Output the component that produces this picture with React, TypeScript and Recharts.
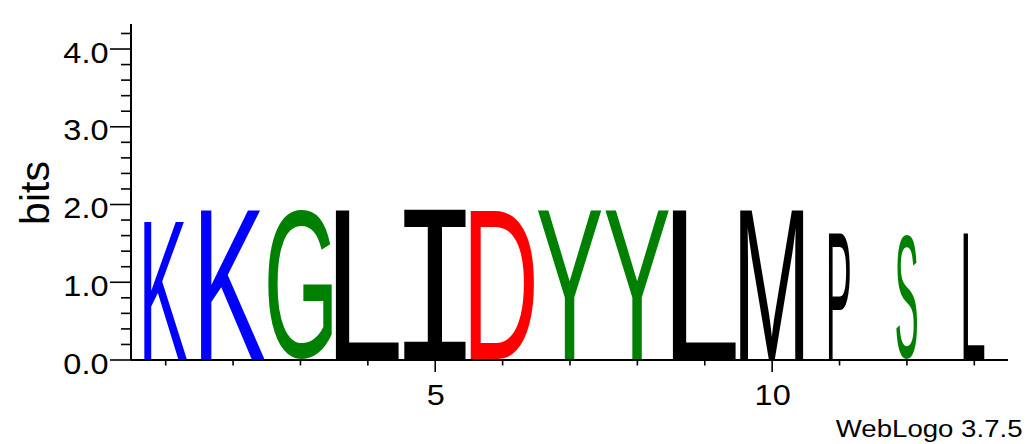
import React from 'react';
import { BarChart, Bar, XAxis, YAxis } from 'recharts';

// ---- data ----
const positions = [1, 2, 3, 4, 5, 6, 7, 8, 9, 10, 11, 12, 13];
const letters = ['K', 'K', 'G', 'L', 'I', 'D', 'Y', 'Y', 'L', 'M', 'P', 'S', 'L'];
const bitValues = [1.77, 1.93, 1.93, 1.93, 1.93, 1.93, 1.93, 1.93, 1.93, 1.93, 1.63, 1.63, 1.63];
const stackWeights = [0.67, 1, 1, 1, 1, 1, 1, 1, 1, 1, 0.33, 0.33, 0.33];
const yTicks = [0, 0.2, 0.4, 0.6, 0.8, 1, 1.2, 1.4, 1.6, 1.8, 2, 2.2, 2.4, 2.6, 2.8, 3, 3.2, 3.4, 3.6, 3.8, 4, 4.2];
const xLabeledTicks = [5, 10];
const yMax = 4.3219;

const colorOf: Record<string, string> = {
  K: '#0000ff', R: '#0000ff', H: '#0000ff',
  D: '#ff0000', E: '#ff0000',
  G: '#008000', S: '#008000', T: '#008000', Y: '#008000', C: '#008000',
  L: '#000000', I: '#000000', M: '#000000', P: '#000000', A: '#000000', V: '#000000', F: '#000000', W: '#000000',
};

const data = positions.map((p, i) => ({
  pos: p,
  letter: letters[i],
  bits: bitValues[i],
  weight: stackWeights[i],
}));

const SANS = 'Liberation Sans';
const MONO = 'Liberation Mono';
const TEXT_FONT = "'Liberation Sans', Arial, Helvetica, sans-serif";

type GM = { l: number; r: number; a: number; d: number };
const glyphCache: Record<string, GM> = {};
function measureGlyph(ch: string, fam: string): GM {
  const key = fam + '|' + ch;
  if (glyphCache[key]) return glyphCache[key];
  let res: GM = { l: -5, r: 70, a: 72, d: 0 };
  try {
    const ctx = document.createElement('canvas').getContext('2d');
    if (ctx) {
      ctx.font = `100px "${fam}"`;
      const m = ctx.measureText(ch);
      if (m.actualBoundingBoxRight + m.actualBoundingBoxLeft > 0) {
        res = {
          l: m.actualBoundingBoxLeft,
          r: m.actualBoundingBoxRight,
          a: m.actualBoundingBoxAscent,
          d: m.actualBoundingBoxDescent,
        };
      }
    }
  } catch (e) {
    // keep fallback
  }
  glyphCache[key] = res;
  return res;
}

function LetterShape(props: any) {
  const { x, y, width, height, payload } = props;
  if (!payload || !(height > 0)) return null;
  const ch: string = payload.letter;
  const fam = ch === 'I' ? MONO : SANS;
  const m = measureGlyph(ch, fam);
  const cx = x + width / 2;
  const boxW = (width - 3) * payload.weight;
  const boxX = cx - boxW / 2;
  const boxH = height - 1;
  const sx = boxW / (m.l + m.r);
  const sy = boxH / (m.a + m.d);
  return (
    <text
      transform={`translate(${boxX + m.l * sx},${y + m.a * sy}) scale(${sx},${sy})`}
      x={0}
      y={0}
      fontFamily={`'${fam}'`}
      fontWeight="normal"
      fontSize={100}
      fill={colorOf[ch] || '#000'}
    >
      {ch}
    </text>
  );
}

function YTick(props: any) {
  const { x, y, payload } = props;
  const v: number = payload.value;
  const major = Math.abs(v - Math.round(v)) < 1e-6;
  const len = major ? 21 : 10;
  return (
    <g>
      <line x1={x - len} y1={y} x2={x} y2={y} stroke="#000" strokeWidth={1.6} />
      {major && (
        <text
          transform={`translate(${x - 22.5},${y + 13.5}) scale(1.12,1)`}
          x={0}
          y={0}
          textAnchor="end"
          fontFamily={TEXT_FONT}
          fontSize={29}
          fill="#000"
        >
          {v.toFixed(1)}
        </text>
      )}
    </g>
  );
}

function XTick(props: any) {
  const { x, y, payload } = props;
  const v: number = payload.value;
  const major = xLabeledTicks.includes(v);
  const len = major ? 12 : 5.5;
  return (
    <g>
      <line x1={x} y1={y} x2={x} y2={y + len} stroke="#000" strokeWidth={1.6} />
      {major && (
        <text
          transform={`translate(${x + 0.5},${y + 45}) scale(1.12,1)`}
          x={0}
          y={0}
          textAnchor="middle"
          fontFamily={TEXT_FONT}
          fontSize={29}
          fill="#000"
        >
          {String(v)}
        </text>
      )}
    </g>
  );
}

function BitsLabel(props: any) {
  const vb = props.viewBox || { x: 0, y: 24, width: 131, height: 336 };
  const bx = vb.x + 49;
  const by = vb.y + vb.height / 2 + 1;
  return (
    <text
      x={bx}
      y={by}
      transform={`rotate(-90,${bx},${by})`}
      textAnchor="middle"
      fontFamily={TEXT_FONT}
      fontSize={41}
      fill="#000"
    >
      bits
    </text>
  );
}

function FinePrint(props: any) {
  const vb = props.viewBox || { x: 131, y: 360, width: 877, height: 84 };
  const fx = vb.x + vb.width + 14.5;
  const fy = vb.y + 76.7;
  return (
    <text
      transform={`translate(${fx},${fy}) scale(1.15,1)`}
      x={0}
      y={0}
      textAnchor="end"
      fontFamily={TEXT_FONT}
      fontSize={24}
      fill="#000"
    >
      WebLogo 3.7.5
    </text>
  );
}

export default function App() {
  return (
    <div style={{ position: 'absolute', left: 0, top: 0, width: 1030, height: 444, background: '#fff' }}>
      <BarChart
        width={1030}
        height={444}
        data={data}
        margin={{ top: 24, right: 22, left: 0, bottom: 0 }}
        barCategoryGap={0}
        barGap={0}
      >
        <XAxis
          dataKey="pos"
          type="category"
          height={84}
          interval={0}
          padding={{ left: 1, right: 0 }}
          tickLine={false}
          tickSize={0}
          tickMargin={0}
          axisLine={{ stroke: '#000', strokeWidth: 2 }}
          tick={<XTick />}
          label={FinePrint}
        />
        <YAxis
          type="number"
          domain={[0, yMax]}
          ticks={yTicks}
          interval={0}
          width={131}
          tickLine={false}
          tickSize={0}
          tickMargin={0}
          axisLine={{ stroke: '#000', strokeWidth: 2 }}
          tick={<YTick />}
          allowDataOverflow
          label={BitsLabel}
        />
        <Bar dataKey="bits" isAnimationActive={false} shape={(p: any) => <LetterShape {...p} />} />
      </BarChart>
    </div>
  );
}
